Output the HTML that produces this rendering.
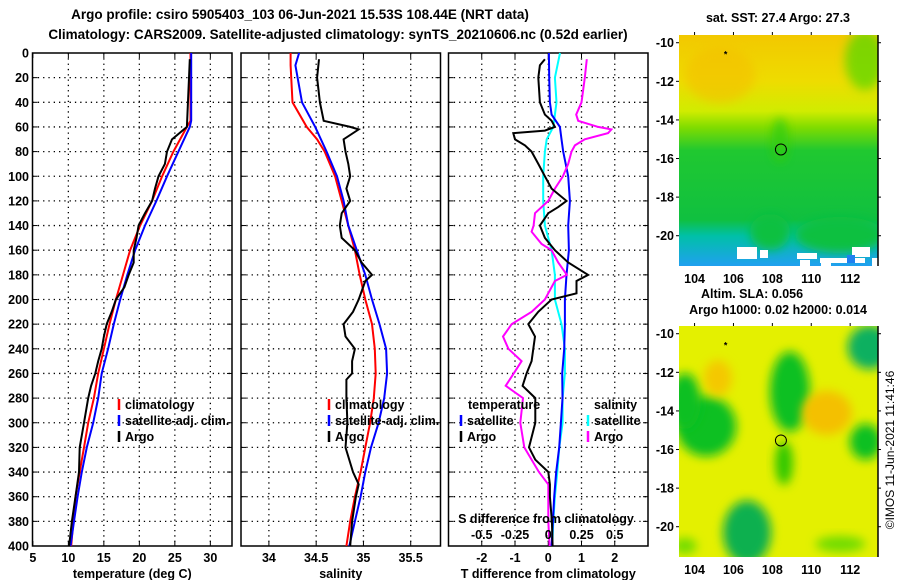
<!DOCTYPE html>
<html><head><meta charset="utf-8"><style>
body{margin:0;background:#fff;}
svg{display:block;font-family:"Liberation Sans",Arial,sans-serif;font-weight:bold;}
text{font-size:12.5px;fill:#000;}
</style></head><body>
<svg id="fig" width="900" height="580" viewBox="0 0 900 580" xmlns="http://www.w3.org/2000/svg">
<defs>
<linearGradient id="sstg" x1="0" y1="0" x2="0" y2="1">
<stop offset="0" stop-color="#f2c800"/><stop offset="0.2" stop-color="#eedc00"/><stop offset="0.33" stop-color="#d0ec00"/>
<stop offset="0.4" stop-color="#80dc00"/><stop offset="0.5" stop-color="#20c830"/><stop offset="0.8" stop-color="#10c040"/>
<stop offset="0.87" stop-color="#00c0a8"/><stop offset="1" stop-color="#20a0f0"/></linearGradient>
<filter id="bl" x="-50%" y="-50%" width="200%" height="200%"><feGaussianBlur stdDeviation="5"/></filter>
<clipPath id="c1"><rect x="679" y="35" width="199" height="231"/></clipPath>
<clipPath id="c2"><rect x="679" y="326" width="199" height="231"/></clipPath>
</defs>
<text x="300" y="19" text-anchor="middle" style="font-size:13.5px">Argo profile: csiro 5905403_103 06-Jun-2021 15.53S 108.44E (NRT data)</text>
<text x="338" y="39" text-anchor="middle" style="font-size:13.5px">Climatology: CARS2009. Satellite-adjusted climatology: synTS_20210606.nc (0.52d earlier)</text>
<g id="panels"></g>
<g id="maps"></g>
<text transform="translate(894,450) rotate(-90)" text-anchor="middle" style="font-weight:normal;font-size:12px">©IMOS 11-Jun-2021 11:41:46</text>
</svg>
<script>
// ---------- data ----------
const depthT = [0,55,60,80,100,120,140,160,180,200,220,240,260,280,300,320,340,360,380,400];
const tempClim = [27.2,27.2,26.7,24.8,23.2,21.8,20.1,18.7,17.7,16.7,15.8,15.0,14.2,13.6,12.8,12.2,11.6,11.0,10.7,10.4];
const tempSat = [27.3,27.3,27.1,25.5,23.9,22.4,20.8,19.4,18.3,17.3,16.4,15.6,14.7,14.2,13.5,12.6,11.9,11.3,10.8,10.3];
const depthArgo = [5,60,70,80,90,100,110,120,130,140,150,160,170,180,190,200,210,220,230,240,250,260,270,280,300,320,340,360,380,390,400];
const tempArgo = [27.1,26.7,24.6,23.9,23.6,22.7,22.2,21.8,20.8,19.9,19.6,19.2,19.2,18.5,17.9,16.7,16.1,15.4,15.0,14.7,14.2,13.8,13.2,12.8,12.2,11.6,11.5,11.0,10.5,10.3,10.1];
const depthS = [0,10,40,60,70,80,100,120,140,160,180,200,220,240,260,280,300,320,340,360,380,400];
const salClim = [34.23,34.23,34.25,34.40,34.51,34.59,34.70,34.77,34.84,34.91,34.96,35.02,35.09,35.12,35.13,35.11,35.07,35.02,34.97,34.91,34.86,34.82];
const salSat = [34.32,34.28,34.35,34.49,34.55,34.61,34.72,34.79,34.84,34.93,35.02,35.09,35.17,35.24,35.25,35.22,35.16,35.08,35.02,34.97,34.91,34.85];
const depthSA = [5,20,40,55,60,62,70,80,90,100,110,120,130,140,150,160,170,180,185,200,210,220,230,240,250,260,265,280,300,320,340,350,360,380,400];
const salArgo = [34.53,34.51,34.54,34.58,34.86,34.95,34.79,34.81,34.84,34.86,34.82,34.86,34.77,34.75,34.77,34.91,34.98,35.09,35.02,34.95,34.89,34.79,34.81,34.91,34.88,34.88,34.82,34.82,34.83,34.81,34.89,34.95,34.92,34.88,34.86];
const depthD = [5,10,20,40,50,55,60,63,65,70,75,80,90,100,110,120,125,130,140,150,160,170,180,185,195,200,205,210,220,230,240,250,260,270,280,300,320,330,340,350,360,380,400];
const tDiffArgo = [-0.1,-0.25,-0.3,-0.25,-0.1,0.1,0.2,-0.1,-1.05,-1.0,-0.7,-0.5,-0.3,-0.1,0.1,0.55,0.3,0,-0.25,-0.1,0.2,0.6,1.2,0.85,0.85,0.1,-0.1,-0.3,-0.6,-0.4,-0.45,-0.5,-0.65,-0.77,-0.39,-0.39,-0.58,-0.39,0,0.05,0.05,0.11,0.13];
const depthDS = [5,20,40,50,55,60,62,65,70,75,80,90,100,110,120,130,140,145,155,160,170,180,185,200,210,220,230,240,250,260,270,280,300,320,340,350,360,380,400];
const sDiffArgo = [0.29,0.275,0.25,0.21,0.225,0.375,0.475,0.45,0.275,0.2,0.175,0.15,0.11,0.05,0,-0.1,-0.11,-0.125,-0.05,0.025,0.075,0.14,0.05,-0.025,-0.125,-0.275,-0.34,-0.3,-0.2,-0.26,-0.32,-0.19,-0.21,-0.18,-0.07,0,0,0,0.01];
const depthSat = [0,20,40,50,60,70,80,100,120,140,160,180,200,220,240,260,280,300,320,340,360,380,400];
const tDiffSat = [0.02,0.03,0.05,0.1,0.35,0.4,0.45,0.6,0.65,0.6,0.62,0.55,0.5,0.5,0.48,0.42,0.43,0.38,0.33,0.24,0.18,0.14,0.1];
const sDiffSat = [0.088,0.05,0.062,0.05,0.038,-0.012,-0.025,-0.038,-0.038,-0.025,0.025,0.05,0.05,0.1,0.125,0.125,0.108,0.108,0.083,0.068,0.05,0.038,0.03];
const depthTicks = [0,20,40,60,80,100,120,140,160,180,200,220,240,260,280,300,320,340,360,380,400];
const tempTicks = [5,10,15,20,25,30];
const salTicks = [34,34.5,35,35.5];
const tdTicks = [-2,-1,0,1,2];
const sdTicks = [-0.5,-0.25,0,0.25,0.5];
const sdTickLabels = ['-0.5','-0.25','0','0.25','0.5'];

const NS='http://www.w3.org/2000/svg';
function mk(tag,attrs,parent){const e=document.createElementNS(NS,tag);for(const k in attrs)e.setAttribute(k,attrs[k]);parent.appendChild(e);return e;}
const yD = d => 53 + d*1.2325;
const P = [
 {x0:32.5,x1:232,min:4.95,max:33.05,ticks:tempTicks,lab:'temperature (deg C)',name:'temperature'},
 {x0:241,x1:440.5,min:33.705,max:35.815,ticks:salTicks,lab:'salinity',name:'salinity'},
 {x0:448.5,x1:648,min:-3,max:3,ticks:tdTicks,lab:'T difference from climatology',name:'difference'}];
P.forEach(p=>{p.x=v=>p.x0+(v-p.min)/(p.max-p.min)*(p.x1-p.x0);});
const sx = v => P[2].x(v*4);
const G=document.getElementById('panels');
P.forEach((p,i)=>{
 const g=mk('g',{},G);
 
 
 depthTicks.forEach(d=>{
  const y=yD(d);
  if(d>0&&d<400){const gl=mk('line',{x1:p.x0,x2:p.x1,y1:y,y2:y,stroke:'#000','stroke-width':1.3,'stroke-dasharray':'1.3,4'},g);
  }
  mk('line',{x1:p.x0,x2:p.x0+5,y1:y,y2:y,stroke:'#000'},g);
  mk('line',{x1:p.x1-5,x2:p.x1,y1:y,y2:y,stroke:'#000'},g);
  if(i==0){const t=mk('text',{x:29,y:y+4.5,'text-anchor':'end'},g);t.textContent=d;
   }
 });
 p.ticks.forEach(v=>{
  const x=p.x(v);
  if(x>p.x0+1){const gl=mk('line',{x1:x,x2:x,y1:53,y2:546,stroke:'#000','stroke-width':1.3,'stroke-dasharray':'1.3,4'},g);
   }
  mk('line',{x1:x,x2:x,y1:541,y2:546,stroke:'#000'},g);
  mk('line',{x1:x,x2:x,y1:53,y2:58,stroke:'#000'},g);
  const t=mk('text',{x:x,y:562,'text-anchor':'middle'},g);t.textContent=v;
  
 });
 const r=mk('rect',{x:p.x0,y:53,width:p.x1-p.x0,height:493,fill:'none',stroke:'#000','stroke-width':1.5},g);
 
 const t=mk('text',{x:(p.x0+p.x1)/2,y:578,'text-anchor':'middle'},g);t.textContent=p.lab;
 
});
function line(depths,vals,fx,color,name){
 const d=depths.map((dd,i)=>(i?'L':'M')+fx(vals[i]).toFixed(1)+','+yD(dd).toFixed(1)).join('');
 const e=mk('path',{d:d,fill:'none',stroke:color,'stroke-width':2},G);
 
 
}
line(depthT,tempClim,P[0].x,'#f00','temp-climatology-line');
line(depthT,tempSat,P[0].x,'#00f','temp-satellite-line');
line(depthArgo,tempArgo,P[0].x,'#000','temp-argo-line');
line(depthS,salClim,P[1].x,'#f00','sal-climatology-line');
line(depthS,salSat,P[1].x,'#00f','sal-satellite-line');
line(depthSA,salArgo,P[1].x,'#000','sal-argo-line');
line(depthSat,sDiffSat,sx,'#0ff','sdiff-satellite-line');
line(depthSat,tDiffSat,P[2].x,'#00f','tdiff-satellite-line');
line(depthDS,sDiffArgo,sx,'#f0f','sdiff-argo-line');
line(depthD,tDiffArgo,P[2].x,'#000','tdiff-argo-line');
const st=mk('text',{x:546,y:523,'text-anchor':'middle'},G);st.textContent='S difference from climatology';

sdTicks.forEach((v,i)=>{const t=mk('text',{x:sx(v),y:539,'text-anchor':'middle'},G);t.textContent=sdTickLabels[i];
 });
function leg(x,y,color,label,name){
 if(color){const m=mk('line',{x1:x,x2:x,y1:y-10,y2:y+1,stroke:color,'stroke-width':2.5},G);
  }
 const t=mk('text',{x:x+6,y:y},G);t.textContent=label;
 
}
leg(119,409,'#f00','climatology','legend-climatology');
leg(119,425,'#00f','satellite-adj. clim.','legend-satellite');
leg(119,441,'#000','Argo','legend-argo');
leg(329,409,'#f00','climatology','legend-climatology-2');
leg(329,425,'#00f','satellite-adj. clim.','legend-satellite-2');
leg(329,441,'#000','Argo','legend-argo-2');
leg(462,409,null,'temperature','legend-temperature-heading');
leg(461,425,'#00f','satellite','legend-t-satellite');
leg(461,441,'#000','Argo','legend-t-argo');
leg(588,409,null,'salinity','legend-salinity-heading');
leg(588,425,'#0ff','satellite','legend-s-satellite');
leg(588,441,'#f0f','Argo','legend-s-argo');

// ---------- maps ----------
const latTicks=[-10,-12,-14,-16,-18,-20];
const lonTicks=[104,106,108,110,112];
const M=document.getElementById('maps');
const maps=[{top:35,clip:'c1',name:'sst-map'},{top:326,clip:'c2',name:'sla-map'}];
const lx=lon=>679+(lon-103.2)*19.45;
maps.forEach((m,k)=>{
 const ly=lat=>m.top+(-9.6-lat)*19.3;
 const g=mk('g',{},M);
 
 
 const c=mk('g',{'clip-path':'url(#'+m.clip+')'},g);
 if(k==0){
  mk('rect',{x:679,y:35,width:199,height:231,fill:'url(#sstg)'},c);
  mk('ellipse',{cx:720,cy:75,rx:35,ry:28,fill:'#f4c000',opacity:0.6,filter:'url(#bl)'},c);
  mk('ellipse',{cx:865,cy:60,rx:20,ry:30,fill:'#50d800',opacity:0.7,filter:'url(#bl)'},c);
  mk('ellipse',{cx:780,cy:140,rx:8,ry:22,fill:'#30cc10',opacity:0.8,filter:'url(#bl)'},c);
  mk('ellipse',{cx:840,cy:235,rx:45,ry:18,fill:'#10c040',filter:'url(#bl)'},c);
  mk('ellipse',{cx:770,cy:232,rx:20,ry:18,fill:'#10c040',filter:'url(#bl)'},c);
  [[737,247,20,12],[760,250,8,8],[797,253,20,6],[800,260,10,8],[820,258,45,5],[821,262,10,6],[852,247,18,10],[872,258,6,8]].forEach(r=>mk('rect',{x:r[0],y:r[1],width:r[2],height:r[3],fill:'#fff'},c));
  mk('rect',{x:847,y:255,width:8,height:8,fill:'#2080f0'},c);
 } else {
  mk('rect',{x:679,y:326,width:199,height:231,fill:'#e4f000'},c);
  const blobs=[[113,-10.7,22,22,'#10b060'],[108.9,-13,20,40,'#10c020'],[104.6,-14.8,30,30,'#10c020'],[103.5,-13.5,16,28,'#10c020'],[112.8,-15.6,16,18,'#10c020'],[106.7,-20.3,24,32,'#10b050'],[108.6,-16.7,9,22,'#30c800'],[110.8,-14.1,25,22,'#f4c000'],[105.2,-12.3,14,18,'#f4c800'],[111.5,-20.9,25,8,'#70dc00'],[103.5,-21,12,8,'#70dc00']];
  blobs.forEach(b=>mk('ellipse',{cx:lx(b[0]),cy:ly(b[1]),rx:b[2],ry:b[3],fill:b[4],filter:'url(#bl)'},c));
 }
 const circ=mk('circle',{cx:lx(108.44),cy:ly(-15.53),r:5.5,fill:'none',stroke:'#000','stroke-width':1},g);
 
 const star=mk('text',{x:lx(105.6),y:ly(-10.5)+5,'text-anchor':'middle',style:'font-size:9px'},g);star.textContent='*';
 
 mk('line',{x1:878,x2:878,y1:m.top,y2:m.top+231,stroke:'#000','stroke-width':1.5},g);
 latTicks.forEach(v=>{const y=ly(v);
  mk('line',{x1:676,x2:679,y1:y,y2:y,stroke:'#000'},g);mk('line',{x1:878,x2:881,y1:y,y2:y,stroke:'#000'},g);
  const t=mk('text',{x:674,y:y+4.5,'text-anchor':'end'},g);t.textContent=v;
  });
 lonTicks.forEach(v=>{const x=lx(v);
  mk('line',{x1:x,x2:x,y1:m.top-3,y2:m.top,stroke:'#000'},g);
  const t=mk('text',{x:x,y:m.top+248,'text-anchor':'middle'},g);t.textContent=v;
  });
});
function mt(x,y,s,name){const t=mk('text',{x:x,y:y,'text-anchor':'middle'},M);t.textContent=s;
 }
mt(778,22,'sat. SST: 27.4 Argo: 27.3','sst-map-title');
mt(752,298,'Altim. SLA: 0.056','sla-map-title');
mt(778,314,'Argo h1000: 0.02 h2000: 0.014','sla-map-subtitle');
</script>
</body></html>
